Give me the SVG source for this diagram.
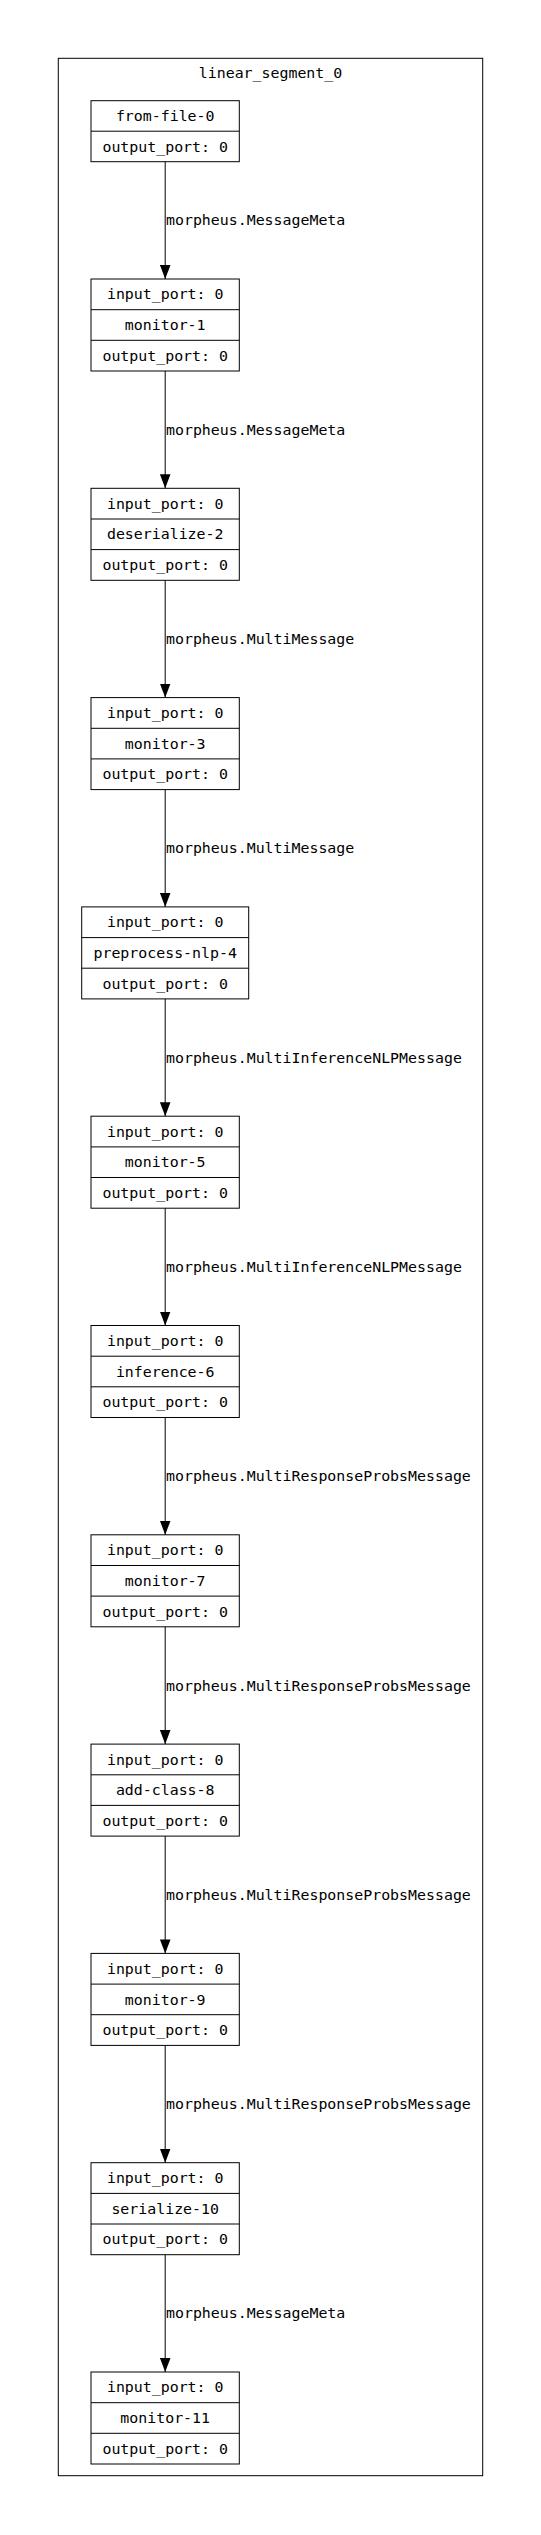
<svg xmlns="http://www.w3.org/2000/svg" width="541" height="2535" viewBox="0 0 541 2535">
<style>
text{font-family:"DejaVu Sans Mono","Liberation Mono",monospace;font-size:14.9px;fill:#000}
.c{text-anchor:middle}
.box{fill:none;stroke:#000;stroke-width:1}
.edge{stroke:#000;stroke-width:1;fill:none}
</style>
<defs>
<marker id="ah" markerUnits="userSpaceOnUse" viewBox="0 0 14 10.6" markerWidth="14" markerHeight="10.6" refX="14" refY="5.3" orient="auto">
<path d="M0,0 L14,5.3 L0,10.6 z" fill="#000"/>
</marker>
</defs>
<rect width="541" height="2535" fill="#fff"/>
<g id="cluster">
<rect class="box" x="58.3" y="58.3" width="424.4" height="2417.4"/>
<text class="c" x="270.5" y="78.3">linear_segment_0</text>
</g>
<g id="edges">
<line class="edge" x1="165.2" y1="161.7" x2="165.2" y2="279" marker-end="url(#ah)"/>
<text x="166" y="225.3">morpheus.MessageMeta</text>
<line class="edge" x1="165.2" y1="371" x2="165.2" y2="488.3" marker-end="url(#ah)"/>
<text x="166" y="434.7">morpheus.MessageMeta</text>
<line class="edge" x1="165.2" y1="580.3" x2="165.2" y2="697.6" marker-end="url(#ah)"/>
<text x="166" y="644">morpheus.MultiMessage</text>
<line class="edge" x1="165.2" y1="789.6" x2="165.2" y2="906.9" marker-end="url(#ah)"/>
<text x="166" y="853.3">morpheus.MultiMessage</text>
<line class="edge" x1="165.2" y1="998.9" x2="165.2" y2="1116.2" marker-end="url(#ah)"/>
<text x="166" y="1062.6">morpheus.MultiInferenceNLPMessage</text>
<line class="edge" x1="165.2" y1="1208.2" x2="165.2" y2="1325.5" marker-end="url(#ah)"/>
<text x="166" y="1271.9">morpheus.MultiInferenceNLPMessage</text>
<line class="edge" x1="165.2" y1="1417.5" x2="165.2" y2="1534.8" marker-end="url(#ah)"/>
<text x="166" y="1481.2">morpheus.MultiResponseProbsMessage</text>
<line class="edge" x1="165.2" y1="1626.8" x2="165.2" y2="1744.1" marker-end="url(#ah)"/>
<text x="166" y="1690.5">morpheus.MultiResponseProbsMessage</text>
<line class="edge" x1="165.2" y1="1836.1" x2="165.2" y2="1953.4" marker-end="url(#ah)"/>
<text x="166" y="1899.8">morpheus.MultiResponseProbsMessage</text>
<line class="edge" x1="165.2" y1="2045.4" x2="165.2" y2="2162.7" marker-end="url(#ah)"/>
<text x="166" y="2109.1">morpheus.MultiResponseProbsMessage</text>
<line class="edge" x1="165.2" y1="2254.7" x2="165.2" y2="2372" marker-end="url(#ah)"/>
<text x="166" y="2318.4">morpheus.MessageMeta</text>
</g>
<g id="from-file-0">
<rect class="box" x="91" y="100.7" width="148.3" height="61"/>
<line class="edge" x1="91" y1="131.2" x2="239.3" y2="131.2"/>
<text class="c" x="165.2" y="121.1">from-file-0</text>
<text class="c" x="165.2" y="151.6">output_port: 0</text>
</g>
<g id="monitor-1">
<rect class="box" x="91" y="279" width="148.3" height="92"/>
<line class="edge" x1="91" y1="309.7" x2="239.3" y2="309.7"/>
<line class="edge" x1="91" y1="340.3" x2="239.3" y2="340.3"/>
<text class="c" x="165.2" y="299.4">input_port: 0</text>
<text class="c" x="165.2" y="330.1">monitor-1</text>
<text class="c" x="165.2" y="360.7">output_port: 0</text>
</g>
<g id="deserialize-2">
<rect class="box" x="91" y="488.3" width="148.3" height="92"/>
<line class="edge" x1="91" y1="519" x2="239.3" y2="519"/>
<line class="edge" x1="91" y1="549.6" x2="239.3" y2="549.6"/>
<text class="c" x="165.2" y="508.7">input_port: 0</text>
<text class="c" x="165.2" y="539.4">deserialize-2</text>
<text class="c" x="165.2" y="570">output_port: 0</text>
</g>
<g id="monitor-3">
<rect class="box" x="91" y="697.6" width="148.3" height="92"/>
<line class="edge" x1="91" y1="728.3" x2="239.3" y2="728.3"/>
<line class="edge" x1="91" y1="758.9" x2="239.3" y2="758.9"/>
<text class="c" x="165.2" y="718">input_port: 0</text>
<text class="c" x="165.2" y="748.7">monitor-3</text>
<text class="c" x="165.2" y="779.3">output_port: 0</text>
</g>
<g id="preprocess-nlp-4">
<rect class="box" x="81.7" y="906.9" width="167" height="92"/>
<line class="edge" x1="81.7" y1="937.6" x2="248.7" y2="937.6"/>
<line class="edge" x1="81.7" y1="968.2" x2="248.7" y2="968.2"/>
<text class="c" x="165.2" y="927.3">input_port: 0</text>
<text class="c" x="165.2" y="958">preprocess-nlp-4</text>
<text class="c" x="165.2" y="988.6">output_port: 0</text>
</g>
<g id="monitor-5">
<rect class="box" x="91" y="1116.2" width="148.3" height="92"/>
<line class="edge" x1="91" y1="1146.9" x2="239.3" y2="1146.9"/>
<line class="edge" x1="91" y1="1177.5" x2="239.3" y2="1177.5"/>
<text class="c" x="165.2" y="1136.6">input_port: 0</text>
<text class="c" x="165.2" y="1167.3">monitor-5</text>
<text class="c" x="165.2" y="1197.9">output_port: 0</text>
</g>
<g id="inference-6">
<rect class="box" x="91" y="1325.5" width="148.3" height="92"/>
<line class="edge" x1="91" y1="1356.2" x2="239.3" y2="1356.2"/>
<line class="edge" x1="91" y1="1386.8" x2="239.3" y2="1386.8"/>
<text class="c" x="165.2" y="1345.9">input_port: 0</text>
<text class="c" x="165.2" y="1376.6">inference-6</text>
<text class="c" x="165.2" y="1407.2">output_port: 0</text>
</g>
<g id="monitor-7">
<rect class="box" x="91" y="1534.8" width="148.3" height="92"/>
<line class="edge" x1="91" y1="1565.5" x2="239.3" y2="1565.5"/>
<line class="edge" x1="91" y1="1596.1" x2="239.3" y2="1596.1"/>
<text class="c" x="165.2" y="1555.2">input_port: 0</text>
<text class="c" x="165.2" y="1585.9">monitor-7</text>
<text class="c" x="165.2" y="1616.5">output_port: 0</text>
</g>
<g id="add-class-8">
<rect class="box" x="91" y="1744.1" width="148.3" height="92"/>
<line class="edge" x1="91" y1="1774.8" x2="239.3" y2="1774.8"/>
<line class="edge" x1="91" y1="1805.4" x2="239.3" y2="1805.4"/>
<text class="c" x="165.2" y="1764.5">input_port: 0</text>
<text class="c" x="165.2" y="1795.2">add-class-8</text>
<text class="c" x="165.2" y="1825.8">output_port: 0</text>
</g>
<g id="monitor-9">
<rect class="box" x="91" y="1953.4" width="148.3" height="92"/>
<line class="edge" x1="91" y1="1984.1" x2="239.3" y2="1984.1"/>
<line class="edge" x1="91" y1="2014.7" x2="239.3" y2="2014.7"/>
<text class="c" x="165.2" y="1973.8">input_port: 0</text>
<text class="c" x="165.2" y="2004.5">monitor-9</text>
<text class="c" x="165.2" y="2035.1">output_port: 0</text>
</g>
<g id="serialize-10">
<rect class="box" x="91" y="2162.7" width="148.3" height="92"/>
<line class="edge" x1="91" y1="2193.4" x2="239.3" y2="2193.4"/>
<line class="edge" x1="91" y1="2224" x2="239.3" y2="2224"/>
<text class="c" x="165.2" y="2183.1">input_port: 0</text>
<text class="c" x="165.2" y="2213.8">serialize-10</text>
<text class="c" x="165.2" y="2244.4">output_port: 0</text>
</g>
<g id="monitor-11">
<rect class="box" x="91" y="2372" width="148.3" height="92"/>
<line class="edge" x1="91" y1="2402.7" x2="239.3" y2="2402.7"/>
<line class="edge" x1="91" y1="2433.3" x2="239.3" y2="2433.3"/>
<text class="c" x="165.2" y="2392.4">input_port: 0</text>
<text class="c" x="165.2" y="2423.1">monitor-11</text>
<text class="c" x="165.2" y="2453.7">output_port: 0</text>
</g>
</svg>
